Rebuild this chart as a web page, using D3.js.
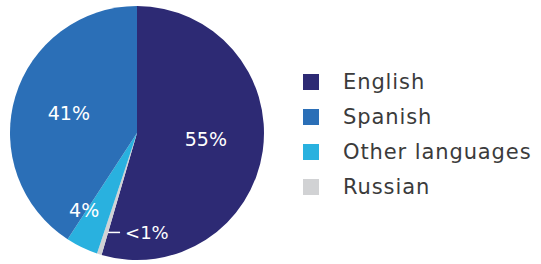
<!DOCTYPE html>
<html>
<head>
<meta charset="utf-8">
<script src="https://cdn.jsdelivr.net/npm/d3@7"></script>
<style>
  body { margin: 0; background: #fff; }
  text { font-family: "DejaVu Sans", sans-serif; }
</style>
</head>
<body>
<div id="wrapper"></div>
<script>
// pie order (clockwise from 12 o'clock)
const languages = ["English", "Russian", "Other languages", "Spanish"];
const shares = [54.5, 0.6, 4.1, 40.8];
const shareLabels = ["55%", "<1%", "4%", "41%"];
const legendOrder = ["English", "Spanish", "Other languages", "Russian"];
const colors = ["#2d2a74", "#d1d2d4", "#29b1df", "#2b6fb7"];

function buildChart() {
    const dimension = {
        width: 541,
        height: 264,
        cx: 137,
        cy: 133,
        radius: 127
    };

    const svg = d3.select("#wrapper").append("svg")
        .attr("width", dimension.width)
        .attr("height", dimension.height);

    const data = languages.map((name, i) => ({name: name, value: shares[i], label: shareLabels[i]}));

    const color = d3.scaleOrdinal()
        .domain(languages)
        .range(colors);

    const pie = d3.pie()
        .sort(null)
        .value(d => d.value);

    const arc = d3.arc()
        .innerRadius(0)
        .outerRadius(dimension.radius);

    const g = svg.append("g")
        .attr("transform", `translate(${dimension.cx},${dimension.cy})`);

    const arcs = pie(data);

    g.selectAll("path")
        .data(arcs)
        .enter()
        .append("path")
        .attr("d", arc)
        .attr("fill", d => color(d.data.name));

    // label radius as fraction of the pie radius, plus small nudges
    const labelPos = {
        "English": {k: 0.54, dx: 1, dy: -4},
        "Spanish": {k: 0.56, dx: 0, dy: 0},
        "Other languages": {k: 0.74, dx: -12, dy: -8}
    };

    arcs.filter(d => labelPos[d.data.name]).forEach(d => {
        const p = labelPos[d.data.name];
        const c = d3.arc().innerRadius(0).outerRadius(dimension.radius * p.k * 2).centroid(d);
        g.append("text")
            .attr("x", c[0] + p.dx)
            .attr("y", c[1] + p.dy)
            .attr("text-anchor", "middle")
            .attr("dominant-baseline", "central")
            .attr("fill", "#fff")
            .style("font-size", "19px")
            .text(d.data.label);
    });

    // small slice: leader line + label
    const tiny = arcs.find(d => d.data.name === "Russian");
    const tp = d3.arc().innerRadius(0).outerRadius(dimension.radius * 0.82 * 2).centroid(tiny);
    g.append("line")
        .attr("x1", tp[0] + 2)
        .attr("y1", tp[1])
        .attr("x2", tp[0] + 14)
        .attr("y2", tp[1])
        .attr("stroke", "#fff")
        .attr("stroke-width", 1.5);
    g.append("text")
        .attr("x", tp[0] + 19)
        .attr("y", tp[1])
        .attr("dominant-baseline", "central")
        .attr("fill", "#fff")
        .style("font-size", "18px")
        .text(tiny.data.label);

    // legend
    const legendY = d3.scalePoint()
        .domain(legendOrder)
        .range([82, 187]);

    const legend = svg.append("g");
    const rows = legend.selectAll("g")
        .data(legendOrder)
        .enter()
        .append("g")
        .attr("transform", d => `translate(303,${legendY(d)})`);

    rows.append("rect")
        .attr("x", 0)
        .attr("y", -8)
        .attr("width", 16)
        .attr("height", 16)
        .attr("fill", d => color(d));

    rows.append("text")
        .attr("x", 40)
        .attr("y", 0)
        .attr("dominant-baseline", "central")
        .attr("fill", "#3b3b3b")
        .style("font-size", "21px")
        .style("letter-spacing", "0.9px")
        .text(d => d);
}

buildChart();
</script>
</body>
</html>
